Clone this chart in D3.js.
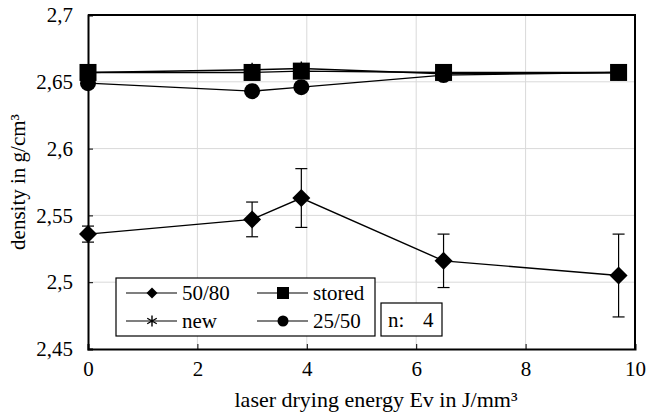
<!DOCTYPE html>
<html>
<head>
<meta charset="utf-8">
<script src="https://cdn.jsdelivr.net/npm/d3@7"></script>
<style>
  body { margin: 0; background: #fff; }
</style>
</head>
<body>
<script>
var width = 646;
var height = 417;
var serif = "'Liberation Serif', 'Times New Roman', Times, Tinos, 'Noto Serif', 'DejaVu Serif', FreeSerif, serif";

// data
var energy = [0, 3, 3.9, 6.5, 9.7];
var s5080 = [2.536, 2.547, 2.563, 2.516, 2.505];
var s5080err = [0.006, 0.013, 0.022, 0.020, 0.031];
var stored = [2.657, 2.657, 2.658, 2.657, 2.657];
var storedErr = [0.001, 0.002, 0.003, 0.001, 0.001];
var fresh = [2.657, 2.659, 2.660, 2.656, 2.657];
var s2550 = [2.649, 2.643, 2.646, 2.655, 2.657];
var xTicks = [0, 2, 4, 6, 8, 10];
var yTicks = [2.45, 2.5, 2.55, 2.6, 2.65, 2.7];

var margin = {left: 88, right: 11, top: 15, bottom: 68};
var fs = 21;

var svg = d3.select('body')
  .append('svg')
  .attr('width', width)
  .attr('height', height)
  .attr('font-family', serif);

var x = d3.scaleLinear().domain([0, 10]).range([margin.left, width - margin.right]);
var y = d3.scaleLinear().domain([2.45, 2.7]).range([height - margin.bottom, margin.top]);

var fmt = function(d) { return String(d).replace('.', ','); };

// grid
svg.append('g').selectAll('line')
  .data(yTicks.slice(1, -1))
  .enter().append('line')
  .attr('x1', x(0)).attr('x2', x(10))
  .attr('y1', d => y(d)).attr('y2', d => y(d))
  .attr('stroke', '#d9d9d9').attr('stroke-width', 1);
svg.append('g').selectAll('line')
  .data(xTicks.slice(1, -1))
  .enter().append('line')
  .attr('x1', d => x(d)).attr('x2', d => x(d))
  .attr('y1', y(2.45)).attr('y2', y(2.7))
  .attr('stroke', '#d9d9d9').attr('stroke-width', 1);

// axes, ticks pointing inward
var xAxis = svg.append('g')
  .attr('transform', 'translate(0,' + y(2.45) + ')')
  .call(d3.axisBottom(x).tickValues(xTicks).tickSize(-5).tickPadding(12).tickFormat(fmt));
var yAxis = svg.append('g')
  .attr('transform', 'translate(' + x(0) + ',0)')
  .call(d3.axisLeft(y).tickValues(yTicks).tickSize(-5).tickPadding(15).tickFormat(fmt));
[xAxis, yAxis].forEach(function(a) {
  a.attr('font-family', serif).attr('font-size', fs);
  a.selectAll('text').attr('fill', '#000');
  a.selectAll('line').attr('stroke', '#000');
  a.select('.domain').attr('stroke', '#000').attr('stroke-width', 2);
});

// top and right frame
svg.append('path')
  .attr('d', 'M' + x(0) + ',' + y(2.7) + 'H' + x(10) + 'V' + y(2.45))
  .attr('fill', 'none').attr('stroke', '#000').attr('stroke-width', 2);

svg.append('text')
  .attr('x', 376).attr('y', 407)
  .attr('text-anchor', 'middle').attr('font-size', 22)
  .text('laser drying energy Ev in J/mm³');

svg.append('text')
  .attr('transform', 'translate(25,' + ((y(2.45) + y(2.7)) / 2) + ') rotate(-90)')
  .attr('text-anchor', 'middle').attr('font-size', 21)
  .text('density in g/cm³');

var line = d3.line().x(d => x(d[0])).y(d => y(d[1]));
var pairs = function(vals) { return energy.map((e, i) => [e, vals[i]]); };

function drawSeries(vals, errs, marker) {
  var g = svg.append('g');
  g.append('path').attr('d', line(pairs(vals)))
    .attr('fill', 'none').attr('stroke', '#000').attr('stroke-width', 1.4);
  if (errs) {
    energy.forEach(function(e, i) {
      var lo = y(vals[i] - errs[i]), hi = y(vals[i] + errs[i]);
      g.append('line').attr('x1', x(e)).attr('x2', x(e)).attr('y1', lo).attr('y2', hi)
        .attr('stroke', '#000').attr('stroke-width', 1.2);
      [lo, hi].forEach(function(v) {
        g.append('line').attr('x1', x(e) - 6).attr('x2', x(e) + 6).attr('y1', v).attr('y2', v)
          .attr('stroke', '#000').attr('stroke-width', 1.2);
      });
    });
  }
  energy.forEach(function(e, i) { marker(g, x(e), y(vals[i])); });
}

function diamond(g, cx, cy, s) {
  s = s || 9;
  g.append('path').attr('d', 'M' + cx + ',' + (cy - s) + 'L' + (cx + s) + ',' + cy + 'L' + cx + ',' + (cy + s) + 'L' + (cx - s) + ',' + cy + 'Z')
    .attr('fill', '#000');
}
function square(g, cx, cy, s) {
  s = s || 8.5;
  g.append('rect').attr('x', cx - s).attr('y', cy - s).attr('width', 2 * s).attr('height', 2 * s).attr('fill', '#000');
}
function circle(g, cx, cy, r) {
  g.append('circle').attr('cx', cx).attr('cy', cy).attr('r', r || 8).attr('fill', '#000');
}
function star(g, cx, cy, s) {
  s = s || 7;
  var d = '';
  [0, 60, 120].forEach(function(a) {
    var r = a * Math.PI / 180;
    d += 'M' + (cx - s * Math.sin(r)) + ',' + (cy - s * Math.cos(r)) + 'L' + (cx + s * Math.sin(r)) + ',' + (cy + s * Math.cos(r));
  });
  g.append('path').attr('d', d).attr('stroke', '#000').attr('stroke-width', 1.4);
}

drawSeries(s2550, null, circle);
drawSeries(s5080, s5080err, diamond);
drawSeries(fresh, null, star);
drawSeries(stored, storedErr, square);

// legend
var leg = svg.append('g');
leg.append('rect').attr('x', 116).attr('y', 278).attr('width', 259).attr('height', 58)
  .attr('fill', '#fff').attr('stroke', '#000').attr('stroke-width', 1.2);
var items = [
  {label: '50/80', m: (g, cx, cy) => diamond(g, cx, cy, 5.5), lx: 126, ly: 293},
  {label: 'stored', m: (g, cx, cy) => square(g, cx, cy, 6), lx: 257, ly: 293},
  {label: 'new', m: (g, cx, cy) => star(g, cx, cy, 5.5), lx: 126, ly: 321},
  {label: '25/50', m: (g, cx, cy) => circle(g, cx, cy, 5.5), lx: 257, ly: 321}
];
items.forEach(function(it) {
  leg.append('line').attr('x1', it.lx).attr('x2', it.lx + 51).attr('y1', it.ly).attr('y2', it.ly)
    .attr('stroke', '#000').attr('stroke-width', 1.2);
  it.m(leg, it.lx + 26, it.ly);
  leg.append('text').attr('x', it.lx + 56).attr('y', it.ly + 7)
    .attr('font-size', fs).text(it.label);
});

var nb = svg.append('g');
nb.append('rect').attr('x', 381).attr('y', 303).attr('width', 61).attr('height', 33)
  .attr('fill', '#fff').attr('stroke', '#000').attr('stroke-width', 1.2);
nb.append('text').attr('x', 388).attr('y', 327)
  .attr('font-size', fs).text('n:');
nb.append('text').attr('x', 423).attr('y', 327)
  .attr('font-size', fs).text('4');
</script>
</body>
</html>
